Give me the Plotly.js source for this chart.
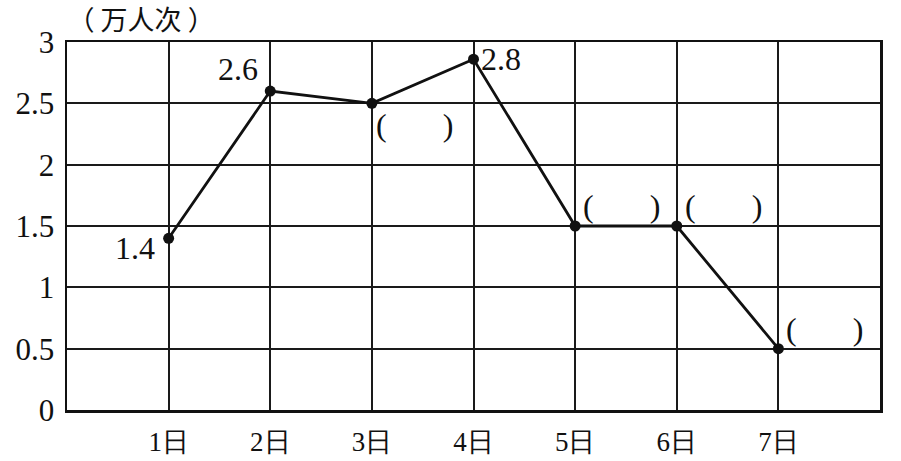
<!DOCTYPE html>
<html>
<head>
<meta charset="utf-8">
<script src="https://cdn.plot.ly/plotly-3.0.1.min.js"></script>
<style>html,body{margin:0;padding:0;background:#fff;}#chart{width:901px;height:461px;}</style>
</head>
<body>
<div id="chart"></div>
<script>
const days = ["1日", "2日", "3日", "4日", "5日", "6日", "7日"];
const dayIndex = [1, 2, 3, 4, 5, 6, 7];
const visitors = [1.4, 2.6, 2.5, 2.86, 1.5, 1.5, 0.5];
const pointLabels = ["1.4", "2.6", "(       )", "2.8", "(       )", "(       )", "(       )"];
const yTicks = [0, 0.5, 1, 1.5, 2, 2.5, 3];
const yTickText = ["0", "0.5", "1", "1.5", "2", "2.5", "3"];
const unitTitle = "（ 万人次 ）";

const serif = "Liberation Serif";

// label placement per point (style only)
const labelPos = [
  {xa: "right", ya: "middle", dx: -12, dy: -10},
  {xa: "right", ya: "bottom", dx: -10, dy: 2},
  {xa: "left", ya: "top", dx: 2, dy: -2},
  {xa: "left", ya: "middle", dx: 5, dy: 0},
  {xa: "left", ya: "bottom", dx: 6, dy: 0},
  {xa: "left", ya: "bottom", dx: 6, dy: 0},
  {xa: "left", ya: "bottom", dx: 6, dy: 0}
];

const annotations = dayIndex.map((d, i) => ({
  x: d, y: visitors[i], xref: "x", yref: "y",
  text: pointLabels[i], showarrow: false,
  xanchor: labelPos[i].xa, yanchor: labelPos[i].ya,
  xshift: labelPos[i].dx, yshift: labelPos[i].dy,
  font: {family: serif, size: 32, color: "#111"}
}));

const trace = {
  x: dayIndex, y: visitors, type: "scatter", mode: "lines+markers",
  line: {color: "#111", width: 2.8},
  marker: {color: "#111", size: 11},
  hoverinfo: "skip"
};

const layout = {
  width: 901, height: 461,
  margin: {l: 67, r: 21, t: 42, b: 51},
  paper_bgcolor: "#fff", plot_bgcolor: "#fff",
  showlegend: false,
  font: {family: serif},
  title: {
    text: unitTitle, xref: "container", yref: "container",
    x: 0.075, xanchor: "left", y: 0.955, yanchor: "middle",
    font: {family: "Noto Sans CJK SC", size: 27, color: "#111"}
  },
  xaxis: {
    range: [0, 8], tickvals: dayIndex, ticktext: days,
    showgrid: true, gridcolor: "#1a1a1a", gridwidth: 2,
    showline: true, linecolor: "#111", linewidth: 2.5, mirror: true,
    zeroline: false, ticks: "", ticklabelstandoff: 6,
    tickfont: {family: serif, size: 27, color: "#111"},
    fixedrange: true
  },
  yaxis: {
    range: [0, 3], tickvals: yTicks, ticktext: yTickText,
    showgrid: true, gridcolor: "#1a1a1a", gridwidth: 2,
    showline: true, linecolor: "#111", linewidth: 2.5, mirror: true,
    zeroline: false, ticks: "", ticklabelstandoff: 4,
    tickfont: {family: serif, size: 31, color: "#111"},
    fixedrange: true
  },
  annotations: annotations
};

Plotly.newPlot("chart", [trace], layout, {displayModeBar: false, staticPlot: true});
</script>
</body>
</html>
